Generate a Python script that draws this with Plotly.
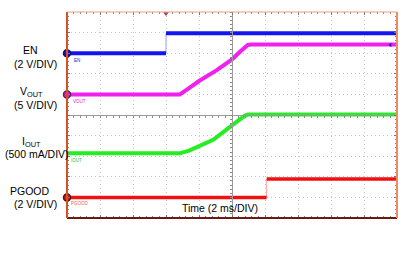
import plotly.graph_objects as go

# Time axis in divisions (-5..5 => 10 div of 2 ms), amplitudes in divisions (-5..5)
en_t = [-5, -2, -2, 5]
en_v = [3.0, 3.0, 3.97, 3.97]

vout_t = [-5, -1.58, -1.3, -1.0, -0.46, 0.0, 0.24, 0.38, 0.48, 0.6, 5]
vout_v = [1.0, 1.0, 1.3, 1.65, 2.18, 2.70, 3.07, 3.30, 3.40, 3.42, 3.42]

iout_t = [-5, -1.58, -1.3, -1.07, -0.57, 0.0, 0.24, 0.38, 0.48, 0.6, 5]
iout_v = [-1.86, -1.86, -1.73, -1.57, -1.2, -0.5, -0.18, -0.04, 0.02, 0.03, 0.03]

pg_t = [-5, 1.05, 1.05, 5]
pg_v = [-4.01, -4.01, -3.11, -3.11]

ref_names = ["EN", "VOUT", "PGOOD"]
ref_levels = [3.0, 1.0, -4.01]
ref_fill = ["#1010ee", "#ee10ee", "#e01010"]
ref_edge = ["#101060", "#602060", "#501010"]

trig_t = [-2]
trig_v = [4.93]

FONT = "Liberation Sans, Arial, sans-serif"
fig = go.Figure()

def seg(x, y, color, width):
    fig.add_trace(go.Scatter(x=x, y=y, mode="lines", line=dict(color=color, width=width),
                             hoverinfo="skip", showlegend=False))

# EN
seg(en_t[1:3], en_v[1:3], "#9aa0ff", 1)
seg(en_t[:2], en_v[:2], "#1414f0", 4)
seg(en_t[2:], en_v[2:], "#1414f0", 4)
# VOUT
seg(vout_t, vout_v, "#f020f0", 4)
# IOUT
seg(iout_t, iout_v, "#22ee22", 4)
# PGOOD
seg(pg_t[1:3], pg_v[1:3], "#ffa0a0", 1)
seg(pg_t[:2], pg_v[:2], "#f01010", 3.5)
seg(pg_t[2:], pg_v[2:], "#f01010", 3.5)

# reference level markers on left edge
fig.add_trace(go.Scatter(x=[-5] * len(ref_levels), y=ref_levels, mode="markers",
                         marker=dict(size=7, color=ref_fill, line=dict(color=ref_edge, width=1.5)),
                         cliponaxis=False, hoverinfo="skip", showlegend=False))
# trigger marker
fig.add_trace(go.Scatter(x=trig_t, y=trig_v, mode="markers",
                         marker=dict(symbol="triangle-down", size=5, color="#e02020"),
                         cliponaxis=False, hoverinfo="skip", showlegend=False))
# right edge marker
fig.add_trace(go.Scatter(x=[4.8], y=[3.4], mode="markers",
                         marker=dict(symbol="triangle-left", size=4, color="#2020d0"),
                         cliponaxis=False, hoverinfo="skip", showlegend=False))

ax_common = dict(range=[-5, 5], dtick=1, tick0=0, showticklabels=False,
                 showgrid=True, gridcolor="#c8c8c8", griddash="1px,3px", gridwidth=1,
                 zeroline=False, ticks="inside", ticklen=3, tickcolor="#777",
                 minor=dict(dtick=0.2, ticks="inside", ticklen=2, tickcolor="#888", showgrid=False),
                 showline=False, mirror="ticks", fixedrange=True)
fig.update_layout(xaxis=ax_common, yaxis=ax_common)

# center crosshair axes
center = dict(range=[-5, 5], dtick=0.2, tick0=0, showticklabels=False, showgrid=False,
              zeroline=False, showline=True, linecolor="#9a9a9a", linewidth=1,
              ticks="outside", ticklen=2, tickcolor="#8a8a8a", fixedrange=True)
fig.update_layout(
    xaxis2=dict(center, overlaying="x", anchor="free", position=0.5),
    yaxis2=dict(center, overlaying="y", anchor="free", position=0.5),
)
fig.add_trace(go.Scatter(x=[None], y=[None], xaxis="x2", yaxis="y2", showlegend=False))

# colored frame edges
fig.add_shape(type="line", xref="paper", yref="paper", x0=0, x1=1, y0=0, y1=0,
              line=dict(color="#6a1a10", width=2), layer="above")
fig.add_shape(type="line", xref="paper", yref="paper", x0=0, x1=0, y0=0, y1=1,
              line=dict(color="#d85020", width=2), layer="above")
fig.add_shape(type="line", xref="paper", yref="paper", x0=1, x1=1, y0=0, y1=1,
              line=dict(color="#f08a60", width=2), layer="above")
fig.add_shape(type="line", xref="paper", yref="paper", x0=0, x1=1, y0=1, y1=1,
              line=dict(color="#e8a080", width=1), layer="above")

def txt(x, y, s, size=10.5, color="black", xanchor="center"):
    fig.add_annotation(x=(x + 5) / 10, y=(y + 5) / 10, xref="paper", yref="paper", text=s,
                       showarrow=False, font=dict(family=FONT, size=size, color=color),
                       xanchor=xanchor, yanchor="middle", borderpad=0)

txt(-6.10, 3.16, "EN")
txt(-5.94, 2.50, "(2 V/DIV)")
txt(-6.08, 1.12, "V<sub>OUT</sub>")
txt(-5.94, 0.49, "(5 V/DIV)")
txt(-6.09, -1.31, "I<sub>OUT</sub>")
txt(-5.92, -1.89, "(500 mA/DIV)")
txt(-6.11, -3.67, "PGOOD")
txt(-5.94, -4.34, "(2 V/DIV)")
txt(-0.37, -4.51, "Time (2 ms/DIV)")

txt(-4.82, 2.65, "EN", size=4.5, color="#2020d0", xanchor="left")
txt(-4.85, 0.66, "VOUT", size=4.5, color="#e020e0", xanchor="left")
txt(-4.91, -2.20, "IOUT", size=4.5, color="#20c020", xanchor="left")
txt(-4.91, -4.29, "PGOOD", size=4.5, color="#f06050", xanchor="left")

fig.update_layout(width=409, height=267, margin=dict(l=67, r=12, t=12, b=49),
                  paper_bgcolor="white", plot_bgcolor="white", showlegend=False,
                  font=dict(family=FONT))
fig.write_html("out.html", config={"displayModeBar": False})
